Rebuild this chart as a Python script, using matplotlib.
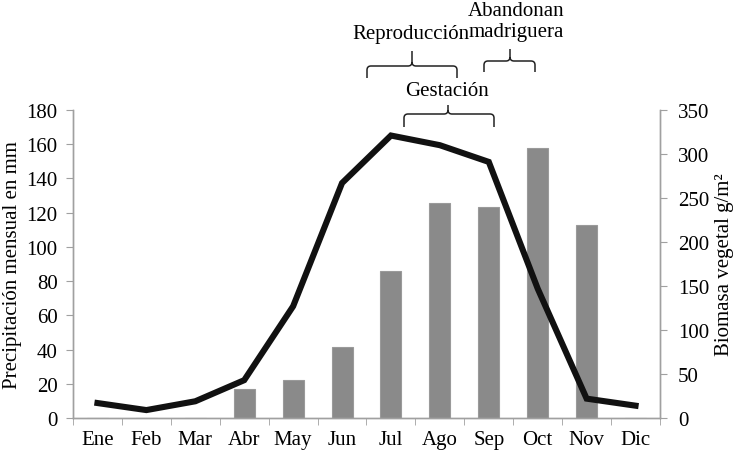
import matplotlib
matplotlib.use("Agg")
import matplotlib.pyplot as plt
from matplotlib.path import Path
from matplotlib.patches import PathPatch
import numpy as np

meses = ["Ene", "Feb", "Mar", "Abr", "May", "Jun", "Jul", "Ago", "Sep", "Oct", "Nov", "Dic"]
precipitacion = [0, 0, 0, 17, 22, 41.5, 86, 125.5, 123.5, 158, 113, 0]
biomasa = [17, 9, 19, 43, 127, 267, 321, 310, 291, 147, 22, 14]

plt.rcParams["font.family"] = ["Liberation Serif", "DejaVu Serif"]
FS = 15
W, H = 740, 456
fig = plt.figure(figsize=(W / 100, H / 100), dpi=100)
ax = fig.add_axes([73 / W, 1 - 419 / H, (660 - 73) / W, (419 - 111) / H])
ax2 = ax.twinx()

x = np.arange(len(meses))
ax.bar(x, precipitacion, width=0.43, color="#8a8a8a", edgecolor="#9a9a9a", linewidth=0.8, zorder=2)
ax2.plot(x, biomasa, color="#111111", linewidth=4.4, solid_joinstyle="miter", zorder=3)

ax.set_xlim(-0.5, 11.5)
ax.set_ylim(0, 180)
ax2.set_ylim(0, 350)
ax.set_yticks(np.arange(0, 181, 20))
ax2.set_yticks(np.arange(0, 351, 50))
ax.set_xticks(x)
ax.set_xticklabels(meses)
ax.set_xticks(np.arange(-0.5, 12, 1), minor=True)
ax.tick_params(axis="x", which="major", length=0, pad=9, labelsize=FS, colors="black")
ax.tick_params(axis="x", which="minor", length=5, color="#a0a0a0", direction="out")
ax.tick_params(axis="y", length=5, color="#a0a0a0", labelsize=FS, pad=6)
ax2.tick_params(axis="y", length=5, color="#a0a0a0", labelsize=FS, pad=8)

for a in (ax, ax2):
    a.spines["top"].set_visible(False)
    for s in ("left", "right", "bottom"):
        a.spines[s].set_color("#a0a0a0")
        a.spines[s].set_linewidth(1.0)

ax.set_ylabel("Precipitación mensual en mm", fontsize=FS, labelpad=3)
ax2.set_ylabel("Biomasa vegetal g/m²", fontsize=FS, labelpad=4)


def fx(px):
    return px / W


def fy(py):
    return 1 - py / H


def brace(x0, x1, xc, yb, yh, yt):
    r = 4
    verts = [
        (x0, yb), (x0, yh + r), (x0, yh), (x0 + r, yh),
        (xc - r, yh), (xc, yh), (xc, yh - r), (xc, yt),
        (xc, yh - r), (xc, yh), (xc + r, yh),
        (x1 - r, yh), (x1, yh), (x1, yh + r), (x1, yb),
    ]
    codes = [Path.MOVETO, Path.LINETO, Path.CURVE3, Path.CURVE3,
             Path.LINETO, Path.CURVE3, Path.CURVE3, Path.LINETO,
             Path.MOVETO, Path.CURVE3, Path.CURVE3,
             Path.LINETO, Path.CURVE3, Path.CURVE3, Path.LINETO]
    verts = [(fx(a), fy(b)) for a, b in verts]
    p = PathPatch(Path(verts, codes), transform=fig.transFigure, fill=False,
                  edgecolor="#222222", linewidth=1.1)
    fig.add_artist(p)


brace(367, 457, 412, 79, 67, 52)
brace(484, 535, 510, 73, 62, 50)
brace(404, 494, 448, 128, 115, 106)

fig.text(fx(411), fy(34), "Reproducción", ha="center", va="center", fontsize=FS)
fig.text(fx(516), fy(22), "Abandonan\nmadriguera", ha="center", va="center", fontsize=FS,
         linespacing=1.15)
fig.text(fx(447), fy(92), "Gestación", ha="center", va="center", fontsize=FS)

fig.savefig("out.png", dpi=100)
